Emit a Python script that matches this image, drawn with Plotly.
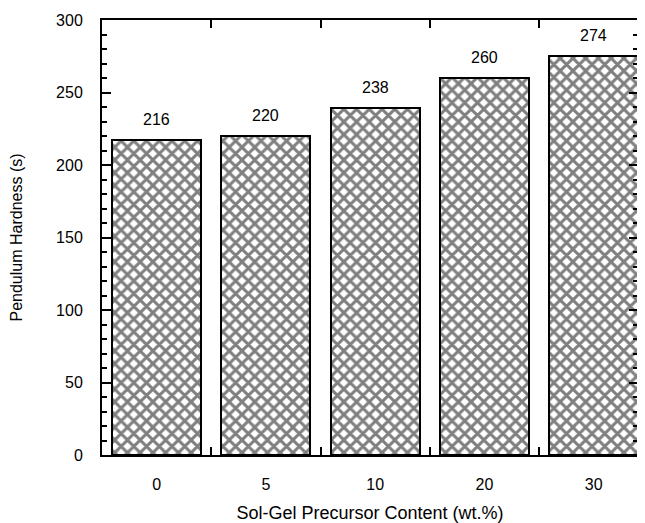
import plotly.graph_objects as go

categories = ["0", "5", "10", "20", "30"]
hardness = [217, 220, 239, 260, 275]
labels = ["216", "220", "238", "260", "274"]
y_ticks = [0, 50, 100, 150, 200, 250, 300]

xpos = list(range(len(categories)))
FONT = "Liberation Sans, Arial, sans-serif"

fig = go.Figure()
fig.add_trace(go.Bar(
    x=xpos, y=hardness, width=0.813,
    marker=dict(color="white",
                line=dict(color="black", width=2),
                pattern=dict(shape="x", size=9, solidity=0.55,
                             fgcolor="black", bgcolor="white")),
    hoverinfo="skip", showlegend=False,
))

for xi, yi, lab in zip(xpos, hardness, labels):
    fig.add_annotation(x=xi, y=yi, text=lab, showarrow=False,
                       yanchor="bottom", yshift=10,
                       font=dict(size=16, color="black", family=FONT))

# page body has an 8px default margin, so the figure is sized/offset to compensate
fig.update_layout(
    width=637, height=515,
    margin=dict(l=94, r=7, t=12, b=68, autoexpand=False),
    paper_bgcolor="white", plot_bgcolor="white",
    font=dict(family=FONT, size=16, color="black"),
    bargap=0,
)
fig.update_xaxes(
    range=[-0.5, 4.405], tickmode="array", tickvals=xpos, ticktext=categories,
    ticks="", ticklen=0, showgrid=False, zeroline=False,
    showline=True, linecolor="black", linewidth=2, mirror="ticks",
    tickfont=dict(size=16), ticklabelstandoff=14,
    minor=dict(tickmode="array", tickvals=[0.5, 1.5, 2.5, 3.5],
               ticks="inside", ticklen=8, tickwidth=2, tickcolor="black", showgrid=False),
    title=dict(text="Sol-Gel Precursor Content (wt.%)", font=dict(size=18), standoff=16),
    automargin=False,
)
fig.update_yaxes(
    range=[0, 300], tickmode="array", tickvals=y_ticks,
    ticks="inside", ticklen=9, tickwidth=2, tickcolor="black",
    showgrid=False, zeroline=False,
    showline=True, linecolor="black", linewidth=2, mirror="ticks",
    tickfont=dict(size=16), ticklabelstandoff=14,
    minor=dict(dtick=10, ticks="inside", ticklen=5, tickwidth=2, tickcolor="black", showgrid=False),
    title=dict(text="Pendulum Hardness (s)", font=dict(size=16), standoff=35),
    automargin=False,
)

fig.write_html("out.html")
